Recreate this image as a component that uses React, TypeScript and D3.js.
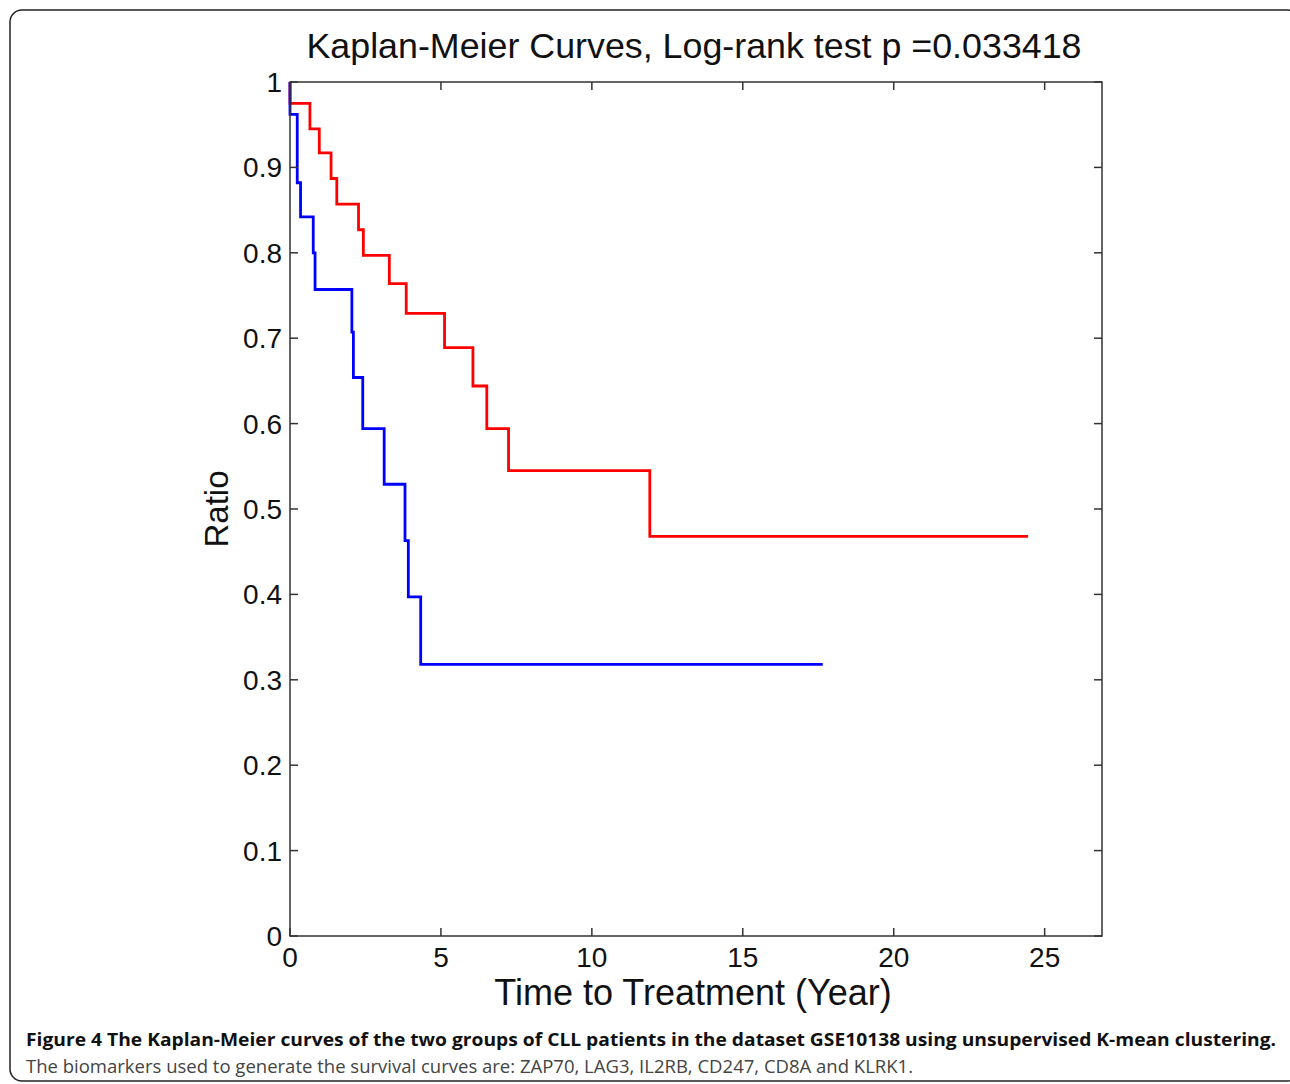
import * as d3 from "d3";

// Kaplan-Meier step data (time in years, survival ratio after each drop)
const redTimes = [0, 0.66, 0.97, 1.36, 1.55, 2.27, 2.43, 3.29, 3.85, 5.12, 6.06, 6.52, 7.24, 11.92];
const redSurv = [0.975, 0.945, 0.917, 0.887, 0.857, 0.827, 0.797, 0.764, 0.729, 0.689, 0.644, 0.594, 0.545, 0.468];
const redEnd = 24.45;

const blueTimes = [0, 0.24, 0.35, 0.77, 0.83, 2.05, 2.1, 2.41, 3.12, 3.81, 3.92, 4.33];
const blueSurv = [0.962, 0.882, 0.842, 0.8, 0.757, 0.707, 0.654, 0.594, 0.529, 0.463, 0.397, 0.318];
const blueEnd = 17.65;

const xTicks = [0, 5, 10, 15, 20, 25];
const yTicks = [0, 0.1, 0.2, 0.3, 0.4, 0.5, 0.6, 0.7, 0.8, 0.9, 1];

const title = "Kaplan-Meier Curves, Log-rank test p =0.033418";
const xLabel = "Time to Treatment (Year)";
const yLabel = "Ratio";
const captionBold = "Figure 4 The Kaplan-Meier curves of the two groups of CLL patients in the dataset GSE10138 using unsupervised K-mean clustering.";
const captionText = "The biomarkers used to generate the survival curves are: ZAP70, LAG3, IL2RB, CD247, CD8A and KLRK1.";

const W = 1290;
const H = 1084;
const plot = { left: 290, right: 1102, top: 82, bottom: 936 };

function steps(times: number[], surv: number[], end: number): [number, number][] {
  const pts: [number, number][] = [[0, 1]];
  times.forEach((t, i) => pts.push([t, surv[i]]));
  pts.push([end, surv[surv.length - 1]]);
  return pts;
}

export default function App() {
  const x = d3.scaleLinear().domain([0, 26.9]).range([plot.left, plot.right]);
  const y = d3.scaleLinear().domain([0, 1]).range([plot.bottom, plot.top]);

  const line = d3
    .line<[number, number]>()
    .x((d) => x(d[0]))
    .y((d) => y(d[1]))
    .curve(d3.curveStepAfter);

  const font = "'Liberation Sans', Arial, Helvetica, sans-serif";
  const axisColor = "#333";
  const tick = 8;

  return (
    <svg width={W} height={H} style={{ position: "absolute", left: 0, top: 0, background: "#fff" }}>
      <rect x={10} y={10} width={1290} height={1071} rx={12} fill="#fff" stroke="#222" strokeWidth={1.5} />

      <text x={694} y={58} textAnchor="middle" fontFamily={font} fontSize={35.8} fill="#111">
        {title}
      </text>

      {/* survival curves */}
      <path d={line(steps(redTimes, redSurv, redEnd)) ?? ""} fill="none" stroke="#ff0000" strokeWidth={2.8} />
      <path d={line(steps(blueTimes, blueSurv, blueEnd)) ?? ""} fill="none" stroke="#0000ff" strokeWidth={2.8} />

      {/* axes box */}
      <rect
        x={plot.left}
        y={plot.top}
        width={plot.right - plot.left}
        height={plot.bottom - plot.top}
        fill="none"
        stroke={axisColor}
        strokeWidth={1.5}
      />

      {xTicks.map((t) => (
        <g key={"x" + t}>
          <line x1={x(t)} x2={x(t)} y1={plot.bottom} y2={plot.bottom - tick} stroke={axisColor} strokeWidth={1.5} />
          <line x1={x(t)} x2={x(t)} y1={plot.top} y2={plot.top + tick} stroke={axisColor} strokeWidth={1.5} />
          <text x={x(t)} y={967} textAnchor="middle" fontFamily={font} fontSize={28} fill="#111">
            {t}
          </text>
        </g>
      ))}

      {yTicks.map((v) => (
        <g key={"y" + v}>
          <line x1={plot.left} x2={plot.left + tick} y1={y(v)} y2={y(v)} stroke={axisColor} strokeWidth={1.5} />
          <line x1={plot.right} x2={plot.right - tick} y1={y(v)} y2={y(v)} stroke={axisColor} strokeWidth={1.5} />
          <text x={282} y={y(v)} dy="0.36em" textAnchor="end" fontFamily={font} fontSize={28} fill="#111">
            {d3.format("~g")(v)}
          </text>
        </g>
      ))}

      <text x={693} y={1005} textAnchor="middle" fontFamily={font} fontSize={36} fill="#111">
        {xLabel}
      </text>
      <text
        transform={`translate(228,${(plot.top + plot.bottom) / 2}) rotate(-90)`}
        textAnchor="middle"
        fontFamily={font}
        fontSize={33}
        fill="#111"
      >
        {yLabel}
      </text>

      <text
        x={26}
        y={1046}
        fontFamily="'Open Sans', sans-serif"
        fontWeight="bold"
        fontSize={18.5}
        textLength={1250}
        lengthAdjust="spacingAndGlyphs"
        fill="#111"
      >
        {captionBold}
      </text>
      <text
        x={26}
        y={1073}
        fontFamily="'Open Sans', sans-serif"
        fontSize={18.5}
        textLength={887}
        lengthAdjust="spacingAndGlyphs"
        fill="#444"
      >
        {captionText}
      </text>
    </svg>
  );
}
